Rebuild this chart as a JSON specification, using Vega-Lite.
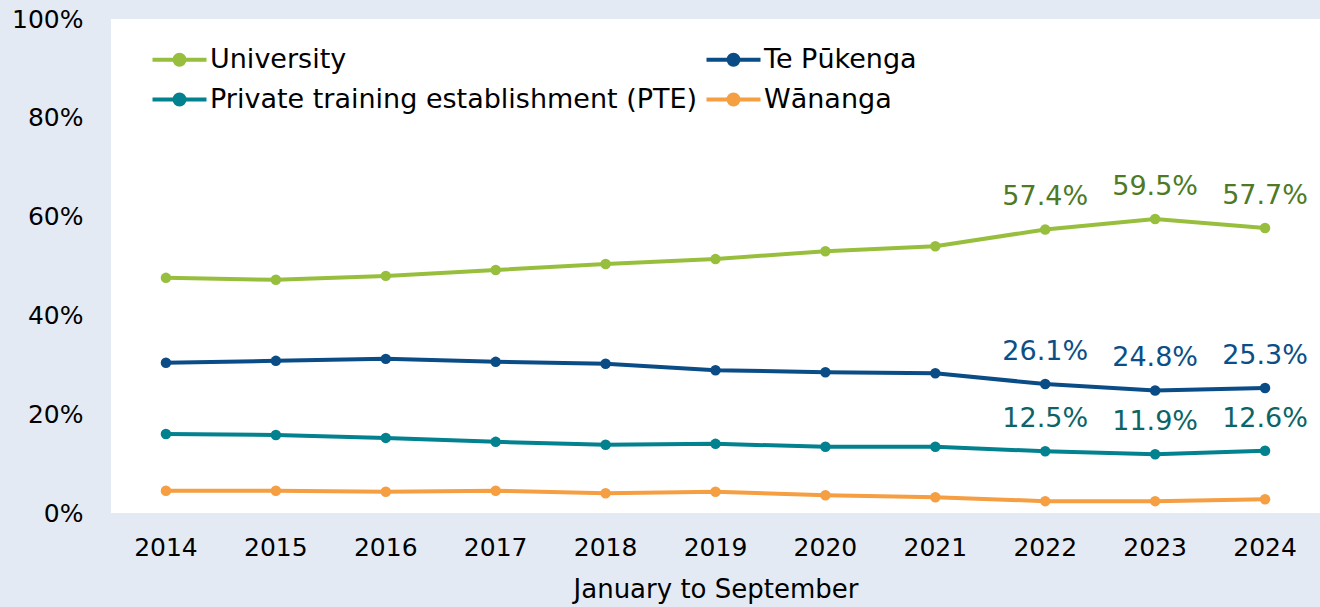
{
  "$schema": "https://vega.github.io/schema/vega-lite/v6.json",
  "width": 1209,
  "height": 494,
  "autosize": {"type": "none"},
  "padding": {"left": 111, "top": 19, "right": 0, "bottom": 94},
  "background": "#E4EAF4",
  "view": {"fill": "white", "stroke": null},
  "config": {
    "font": "DejaVu Sans",
    "axis": {"labelFont": "DejaVu Sans", "titleFont": "DejaVu Sans", "labelColor": "black", "titleColor": "black", "titleFontWeight": "normal", "domain": false, "ticks": false, "grid": false},
    "legend": {"labelFont": "DejaVu Sans"}
  },
  "data": {"values": [
    {"year": "2014", "sector": "University", "share": 0.476},
    {"year": "2015", "sector": "University", "share": 0.472},
    {"year": "2016", "sector": "University", "share": 0.480},
    {"year": "2017", "sector": "University", "share": 0.492},
    {"year": "2018", "sector": "University", "share": 0.504},
    {"year": "2019", "sector": "University", "share": 0.514},
    {"year": "2020", "sector": "University", "share": 0.530},
    {"year": "2021", "sector": "University", "share": 0.540},
    {"year": "2022", "sector": "University", "share": 0.574},
    {"year": "2023", "sector": "University", "share": 0.595},
    {"year": "2024", "sector": "University", "share": 0.577},
    {"year": "2014", "sector": "Te Pūkenga", "share": 0.304},
    {"year": "2015", "sector": "Te Pūkenga", "share": 0.308},
    {"year": "2016", "sector": "Te Pūkenga", "share": 0.312},
    {"year": "2017", "sector": "Te Pūkenga", "share": 0.306},
    {"year": "2018", "sector": "Te Pūkenga", "share": 0.302},
    {"year": "2019", "sector": "Te Pūkenga", "share": 0.289},
    {"year": "2020", "sector": "Te Pūkenga", "share": 0.285},
    {"year": "2021", "sector": "Te Pūkenga", "share": 0.283},
    {"year": "2022", "sector": "Te Pūkenga", "share": 0.261},
    {"year": "2023", "sector": "Te Pūkenga", "share": 0.248},
    {"year": "2024", "sector": "Te Pūkenga", "share": 0.253},
    {"year": "2014", "sector": "Private training establishment (PTE)", "share": 0.160},
    {"year": "2015", "sector": "Private training establishment (PTE)", "share": 0.158},
    {"year": "2016", "sector": "Private training establishment (PTE)", "share": 0.152},
    {"year": "2017", "sector": "Private training establishment (PTE)", "share": 0.144},
    {"year": "2018", "sector": "Private training establishment (PTE)", "share": 0.138},
    {"year": "2019", "sector": "Private training establishment (PTE)", "share": 0.140},
    {"year": "2020", "sector": "Private training establishment (PTE)", "share": 0.134},
    {"year": "2021", "sector": "Private training establishment (PTE)", "share": 0.134},
    {"year": "2022", "sector": "Private training establishment (PTE)", "share": 0.125},
    {"year": "2023", "sector": "Private training establishment (PTE)", "share": 0.119},
    {"year": "2024", "sector": "Private training establishment (PTE)", "share": 0.126},
    {"year": "2014", "sector": "Wānanga", "share": 0.045},
    {"year": "2015", "sector": "Wānanga", "share": 0.045},
    {"year": "2016", "sector": "Wānanga", "share": 0.043},
    {"year": "2017", "sector": "Wānanga", "share": 0.045},
    {"year": "2018", "sector": "Wānanga", "share": 0.040},
    {"year": "2019", "sector": "Wānanga", "share": 0.043},
    {"year": "2020", "sector": "Wānanga", "share": 0.036},
    {"year": "2021", "sector": "Wānanga", "share": 0.032},
    {"year": "2022", "sector": "Wānanga", "share": 0.024},
    {"year": "2023", "sector": "Wānanga", "share": 0.024},
    {"year": "2024", "sector": "Wānanga", "share": 0.028}
  ]},
  "encoding": {
    "x": {"field": "year", "type": "ordinal", "scale": {"type": "band", "paddingInner": 0, "paddingOuter": 0},
      "axis": {"title": "January to September", "labelAngle": 0, "labelFontSize": 25, "labelPadding": 22, "titleFontSize": 26, "titlePadding": 16}},
    "y": {"field": "share", "type": "quantitative", "scale": {"domain": [0, 1], "nice": false},
      "axis": {"title": null, "values": [0, 0.2, 0.4, 0.6, 0.8, 1], "format": ".0%", "labelFontSize": 25, "labelPadding": 28}}
  },
  "layer": [
    {
      "mark": {"type": "line", "strokeWidth": 4, "point": {"filled": true, "size": 110}},
      "encoding": {
        "color": {"field": "sector", "type": "nominal",
          "scale": {"domain": ["University", "Te Pūkenga", "Private training establishment (PTE)", "Wānanga"], "range": ["#97BF3D", "#0A4C86", "#02818F", "#F59E42"]},
          "legend": {"title": null, "orient": "none", "legendX": 53, "legendY": 25, "columns": 2, "direction": "horizontal",
            "labelFontSize": 27, "labelColor": "black", "labelOffset": 15, "labelLimit": 0,
            "symbolType": "M-2,0L2,0M-0.37,0A0.37,0.37,0,1,0,0.37,0A0.37,0.37,0,1,0,-0.37,0Z",
            "symbolSize": 729, "symbolStrokeWidth": 4, "rowPadding": 11, "columnPadding": 0, "padding": 0,
            "encode": {"symbols": {"update": {"fill": {"field": "value", "scale": "color"}, "stroke": {"field": "value", "scale": "color"}}}}}
        }
      }
    },
    {
      "transform": [{"filter": "datum.year >= '2022' && datum.sector !== 'Wānanga'"}],
      "mark": {"type": "text", "baseline": "bottom", "dy": -18, "fontSize": 27},
      "encoding": {
        "text": {"field": "share", "type": "quantitative", "format": ".1%"},
        "color": {"condition": [
          {"test": "datum.sector === 'University'", "value": "#4E7A25"},
          {"test": "datum.sector === 'Te Pūkenga'", "value": "#0B4F86"}
        ], "value": "#0C6466"}
      }
    }
  ]
}
